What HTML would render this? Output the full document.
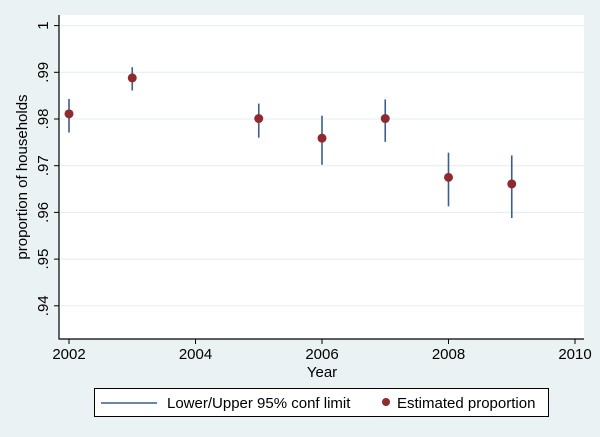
<!DOCTYPE html>
<html><head><meta charset="utf-8"><style>
body{margin:0;background:#eaf2f3;}
svg{display:block;font-family:"Liberation Sans",sans-serif;}
</style></head><body>
<svg id="chart" width="600" height="437" viewBox="0 0 600 437" xmlns="http://www.w3.org/2000/svg">
<rect x="0" y="0" width="600" height="437" fill="#eaf2f3"/>
<rect x="59" y="15" width="525" height="324" fill="#ffffff"/>
<g id="grid"></g>
<g id="marks"></g>
<g id="axes"></g>
<text transform="translate(27,177) rotate(-90)" text-anchor="middle" font-size="15" fill="#000">proportion of households</text>
<text x="322" y="377" text-anchor="middle" font-size="15" fill="#000">Year</text>
<g>
<rect x="94.5" y="388.5" width="454" height="28" fill="#fff" stroke="#000" stroke-width="1"/>
<line x1="101" y1="403" x2="157" y2="403" stroke="#3a5f8a" stroke-width="1.5"/>
<text x="167" y="408" font-size="15">Lower/Upper 95% conf limit</text>
<circle cx="386" cy="402" r="4" fill="#8f2a2e"/>
<text x="397" y="408" font-size="15">Estimated proportion</text>
</g>
</svg>
<script>
const years=[2002,2003,2005,2006,2007,2008,2009];
const estimates=[0.9811,0.9888,0.9801,0.9759,0.9801,0.9675,0.9661];
const lower=[0.9771,0.9861,0.9760,0.9702,0.9751,0.9613,0.9588];
const upper=[0.9843,0.9911,0.9833,0.9807,0.9842,0.9728,0.9722];
const yTicks=[0.94,0.95,0.96,0.97,0.98,0.99,1];
const yTickLabels=[".94",".95",".96",".97",".98",".99","1"];
const xTicks=[2002,2004,2006,2008,2010];
const NS="http://www.w3.org/2000/svg";
function xS(v){return 69+(v-2002)*(575-69)/8;}
function yS(v){return 119-(v-0.98)*4670;}
function mk(tag,attrs,parent){const e=document.createElementNS(NS,tag);for(const k in attrs)e.setAttribute(k,attrs[k]);parent.appendChild(e);return e;}
const grid=document.getElementById('grid'),marks=document.getElementById('marks'),axes=document.getElementById('axes');
yTicks.forEach((t,i)=>{
 const g=mk('line',{x1:59,x2:584,y1:yS(t),y2:yS(t),stroke:'#e3ecef','stroke-width':1},grid);
 
 
 const tk=mk('line',{x1:54,x2:59,y1:yS(t),y2:yS(t),stroke:'#000','stroke-width':1},axes);
 
 
 const lb=mk('text',{transform:`translate(48,${yS(t)}) rotate(-90)`,'text-anchor':'middle','font-size':15},axes);
 lb.textContent=yTickLabels[i];
 
 
});
const ya=mk('line',{x1:59,x2:59,y1:15,y2:339.5,stroke:'#000','stroke-width':1.2},axes);


const xa=mk('line',{x1:59,x2:584,y1:339,y2:339,stroke:'#000','stroke-width':1.2},axes);


xTicks.forEach(t=>{
 const tk=mk('line',{x1:xS(t),x2:xS(t),y1:339,y2:344,stroke:'#000','stroke-width':1},axes);
 
 
 const lb=mk('text',{x:xS(t),y:359,'text-anchor':'middle','font-size':15},axes);
 lb.textContent=String(t);
 
 
});
years.forEach((y,i)=>{
 const l=mk('line',{x1:xS(y),x2:xS(y),y1:yS(lower[i]),y2:yS(upper[i]),stroke:'#3a5f8a','stroke-width':1.6},marks);
 
 
});
years.forEach((y,i)=>{
 const c=mk('circle',{cx:xS(y),cy:yS(estimates[i]),r:4.5,fill:'#8f2a2e'},marks);
 
 
});
</script>
</body></html>
